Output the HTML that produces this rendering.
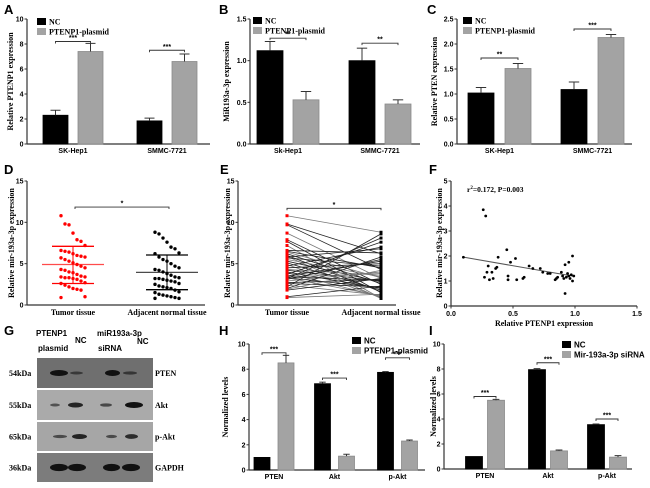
<!DOCTYPE html>
<html><head><meta charset="utf-8"><style>
html,body{margin:0;padding:0;background:#fff;}
svg{display:block;}
text{font-family:"Liberation Sans",sans-serif;}
.serif{font-family:"Liberation Serif",serif;font-weight:bold;}
.tk{font-size:7px;font-weight:bold;}
.lab{font-size:13px;font-weight:bold;}
</style></head><body>
<svg id="fig" width="650" height="488" viewBox="0 0 650 488" xmlns="http://www.w3.org/2000/svg">
<g>
<text class="lab" x="4" y="14">A</text><text class="lab" x="219" y="14">B</text><text class="lab" x="427" y="14">C</text>
<text class="lab" x="4" y="174">D</text><text class="lab" x="220" y="174">E</text><text class="lab" x="429" y="174">F</text>
<text class="lab" x="4" y="335">G</text><text class="lab" x="219" y="335">H</text><text class="lab" x="429" y="335">I</text>
</g>
<g id="blot">
<text x="36" y="336" style="font-size:8px;font-weight:bold">PTENP1</text>
<text x="38" y="351" style="font-size:8px;font-weight:bold">plasmid</text>
<text x="75" y="343" style="font-size:8px;font-weight:bold">NC</text>
<text x="97" y="336" style="font-size:8px;font-weight:bold">miR193a-3p</text>
<text x="98" y="351" style="font-size:8px;font-weight:bold">siRNA</text>
<text x="137" y="344" style="font-size:8px;font-weight:bold">NC</text>
</g>
</svg>
<script>
// ---------- data ----------
const barCategoriesA = ["SK-Hep1","SMMC-7721"];
const ncA = [2.3, 1.85], ncErrA = [0.4, 0.22];
const plA = [7.4, 6.6], plErrA = [0.65, 0.6];
const starsA = ["***","***"], brA = [8.2, 7.5];

const barCategoriesB = ["Sk-Hep1","SMMC-7721"];
const ncB = [1.12, 1.0], ncErrB = [0.11, 0.15];
const plB = [0.53, 0.48], plErrB = [0.1, 0.05];
const starsB = ["**","**"], brB = [1.27, 1.21];

const barCategoriesC = ["SK-Hep1","SMMC-7721"];
const ncC = [1.02, 1.09], ncErrC = [0.11, 0.15];
const plC = [1.51, 2.13], plErrC = [0.1, 0.06];
const starsC = ["**","***"], brC = [1.72, 2.3];

const barCategoriesH = ["PTEN","Akt","p-Akt"];
const ncH = [1.0, 6.85, 7.75], ncErrH = [0, 0.12, 0.06];
const plH = [8.5, 1.1, 2.3], plErrH = [0.6, 0.15, 0.08];
const starsH = ["***","***","***"], brH = [9.3, 7.3, 8.9];

const barCategoriesI = ["PTEN","Akt","p-Akt"];
const ncI = [1.0, 7.95, 3.55], ncErrI = [0, 0.08, 0.05];
const siI = [5.5, 1.45, 0.95], siErrI = [0.07, 0.07, 0.12];
const starsI = ["***","***","***"], brI = [5.8, 8.5, 4.0];

const tumorVals = [10.8,9.8,9.7,8.7,7.9,7.7,7.2,6.6,6.5,6.4,6.2,6.0,5.9,5.8,5.7,5.5,5.3,5.1,4.9,4.7,4.5,4.3,4.2,4.0,3.9,3.7,3.5,3.4,3.4,3.3,3.3,3.2,3.1,2.9,2.7,2.6,2.4,2.2,2.0,1.9,1.8,1.0,0.9];
const adjVals = [8.8,8.6,8.1,7.6,7.0,6.8,6.3,6.2,5.8,5.5,5.3,5.0,4.7,4.5,4.3,4.2,4.0,3.8,3.6,3.4,3.3,3.2,3.2,3.1,3.0,2.9,2.8,2.6,2.5,2.3,2.2,2.1,2.0,1.8,1.6,1.5,1.3,1.2,1.1,1.0,0.9,0.8,0.8];
const tumorStats = [4.9, 7.1, 2.6];   // mean, +SD, -SD
const adjStats = [3.95, 6.05, 1.85];
const scatterTicks = [0,5,10,15];

const fX = [0.1,0.26,0.28,0.27,0.29,0.3,0.31,0.33,0.34,0.36,0.37,0.38,0.45,0.46,0.46,0.48,0.52,0.53,0.58,0.59,0.63,0.66,0.72,0.74,0.78,0.8,0.84,0.85,0.86,0.89,0.9,0.91,0.92,0.92,0.93,0.94,0.95,0.95,0.96,0.97,0.98,0.98,0.99];
const fY = [1.95,3.85,3.6,1.15,1.35,1.6,1.05,1.35,1.1,1.5,1.55,1.95,2.25,1.2,1.05,1.75,1.9,1.05,1.1,1.15,1.6,1.5,1.5,1.35,1.3,1.3,1.05,1.1,1.15,1.35,1.2,1.1,1.65,0.5,1.15,1.3,1.75,1.2,1.1,1.25,2.0,1.0,1.2];
const fitIntercept = 2.04, fitSlope = -0.86;
const fXTicks = [0.0,0.5,1.0,1.5], fYTicks = [0,1,2,3,4,5];

// ---------- helpers ----------
const svg = document.getElementById('fig');
const NS = 'http://www.w3.org/2000/svg';
function mk(tag, attrs, parent){
  const e = document.createElementNS(NS, tag);
  for (const k in attrs) e.setAttribute(k, attrs[k]);
  (parent||svg).appendChild(e); return e;
}
function txt(s, x, y, cls, anchor, parent, extra){
  const t = mk('text', Object.assign({x:x, y:y, 'text-anchor':anchor||'start'}, extra||{}), parent);
  if (cls) t.setAttribute('class', cls);
  t.textContent = s; return t;
}
function yTitle(s, x, y, parent){
  const t = txt(s, x, y, 'serif', 'middle', parent, {transform:'rotate(-90 '+x+' '+y+')', 'font-size':'8'});
  
  
}
function yAxis(g, ax, bottom, top, max, ticks, fmt){
  const sy = v => bottom - v/max*(bottom-top);
  mk('line',{x1:ax,y1:top,x2:ax,y2:bottom,stroke:'#333','stroke-width':1.2}, g);
  ticks.forEach(t=>{
    mk('line',{x1:ax-2.5,y1:sy(t),x2:ax,y2:sy(t),stroke:'#333','stroke-width':1}, g);
    const l = txt(fmt(t), ax-3.5, sy(t)+2.5, 'tk', 'end', g);
    
    
  });
  return sy;
}
function bracket(g, x1, x2, y, s){
  mk('path',{d:`M${x1} ${y+2}V${y}H${x2}V${y+2}`,fill:'none',stroke:'#333','stroke-width':0.9}, g);
  txt(s, (x1+x2)/2, y-1.5, '', 'middle', g, {'font-size':'7','font-weight':'bold'});
}
function barChart(cfg){
  const g = mk('g',{});
  
  
  const sy = yAxis(g, cfg.ax, cfg.bottom, cfg.top, cfg.max, cfg.ticks, cfg.fmt);
  mk('line',{x1:cfg.ax,y1:cfg.bottom,x2:cfg.axEnd,y2:cfg.bottom,stroke:'#333','stroke-width':1.2}, g);
  cfg.cats.forEach((c,i)=>{
    const cx = cfg.centers[i];
    [[cfg.a, cfg.aErr, -1, '#000', '#000'], [cfg.b, cfg.bErr, 1, '#a3a3a3', '#8a8a8a']].forEach(([vals, errs, side, fill, stroke], k)=>{
      const x = cx + side*cfg.off - cfg.w/2;
      const yv = sy(vals[i]);
      const r = mk('rect',{x:x,y:yv,width:cfg.w,height:cfg.bottom-yv,fill:fill,stroke:stroke,'stroke-width':0.8}, g);
      
      
      if (errs[i]>0){
        const ye = sy(vals[i]+errs[i]); const xm = x+cfg.w/2;
        mk('line',{x1:xm,y1:yv,x2:xm,y2:ye,stroke:'#333','stroke-width':1}, g);
        mk('line',{x1:xm-cfg.w*0.2,y1:ye,x2:xm+cfg.w*0.2,y2:ye,stroke:'#333','stroke-width':1}, g);
      }
    });
    bracket(g, cx-cfg.off, cx+cfg.off, sy(cfg.br[i]), cfg.stars[i]);
    const l = txt(c, cx, cfg.bottom+9, 'tk', 'middle', g, {'font-size':'8'});
    
    
  });
  const lg = mk('g',{}, g);
  
  
  cfg.legend.forEach((s,k)=>{
    const y = cfg.legY + k*cfg.legGap;
    mk('rect',{x:cfg.legX,y:y-4,width:9,height:7,fill:k?'#a3a3a3':'#000'}, lg);
    const t = txt(s, cfg.legX+12, y+2.5, cfg.legSans?'':'serif', 'start', lg, {'font-size':'8','font-weight':'bold'});
    
    
  });
  yTitle(cfg.ytitle, cfg.ytX, (cfg.top+cfg.bottom)/2, g);
}
const f0 = v=>String(v), f1 = v=>v.toFixed(1);

barChart({name:'chart-a-ptenp1', ax:27, bottom:144, top:19, max:10, ticks:[0,2,4,6,8,10], fmt:f0, axEnd:210,
  cats:barCategoriesA, centers:[73,167], off:17.5, w:25, a:ncA, aErr:ncErrA, b:plA, bErr:plErrA, stars:starsA, br:brA,
  legend:['NC','PTENP1-plasmid'], legX:37, legY:22, legGap:10, ytitle:'Relative PTENP1  expression', ytX:13});
barChart({name:'chart-b-mir193a', ax:250, bottom:144, top:19, max:1.5, ticks:[0,0.5,1,1.5], fmt:f1, axEnd:420,
  cats:barCategoriesB, centers:[288,380], off:18, w:26, a:ncB, aErr:ncErrB, b:plB, bErr:plErrB, stars:starsB, br:brB,
  legend:['NC','PTENP1-plasmid'], legX:253, legY:21, legGap:10, ytitle:'MiR193a-3p expression', ytX:229});
barChart({name:'chart-c-pten', ax:457, bottom:144, top:19, max:2.5, ticks:[0,0.5,1,1.5,2,2.5], fmt:f1, axEnd:632,
  cats:barCategoriesC, centers:[499.5,592.5], off:18.5, w:26, a:ncC, aErr:ncErrC, b:plC, bErr:plErrC, stars:starsC, br:brC,
  legend:['NC','PTENP1-plasmid'], legX:463, legY:21, legGap:10, ytitle:'Relative PTEN expression', ytX:437});
barChart({name:'chart-h-normalized', ax:249, bottom:470, top:344, max:10, ticks:[0,2,4,6,8,10], fmt:f0, axEnd:425,
  cats:barCategoriesH, centers:[274,334.5,397.5], off:12, w:16, a:ncH, aErr:ncErrH, b:plH, bErr:plErrH, stars:starsH, br:brH,
  legend:['NC','PTENP1-plasmid'], legX:352, legY:341, legGap:10, legSans:true, ytitle:'Normalized levels', ytX:228});
barChart({name:'chart-i-normalized', ax:444, bottom:469, top:344, max:10, ticks:[0,2,4,6,8,10], fmt:f0, axEnd:632,
  cats:barCategoriesI, centers:[485,548,607], off:11, w:17, a:ncI, aErr:ncErrI, b:siI, bErr:siErrI, stars:starsI, br:brI,
  legend:['NC','Mir-193a-3p siRNA'], legX:562, legY:345, legGap:10, legSans:true, ytitle:'Normalized levels', ytX:436});

// ---------- D: scatter dot plot ----------
(function(){
  const g = mk('g',{});  
  const ax=27,bottom=305,top=181;
  const sy = yAxis(g, ax, bottom, top, 15, scatterTicks, f0);
  mk('line',{x1:ax,y1:bottom,x2:205,y2:bottom,stroke:'#333','stroke-width':1.2}, g);
  const groups = [[tumorVals, tumorStats, 73, '#f00', 'Tumor tissue'], [adjVals, adjStats, 167, '#000', 'Adjacent normal tissue']];
  groups.forEach(([vals, st, cx, col, name])=>{
    vals.forEach((v,i)=>{
      const j = ((i%7)-3)*4;
      const c = mk('circle',{cx:cx+j, cy:sy(v), r:1.7, fill:col}, g);
       
    });
    mk('line',{x1:cx-31,x2:cx+31,y1:sy(st[0]),y2:sy(st[0]),stroke:col,'stroke-width':1.3,opacity:0.7}, g);
    mk('line',{x1:cx-21,x2:cx+21,y1:sy(st[1]),y2:sy(st[1]),stroke:col,'stroke-width':1.3}, g);
    mk('line',{x1:cx-21,x2:cx+21,y1:sy(st[2]),y2:sy(st[2]),stroke:col,'stroke-width':1.3}, g);
    mk('line',{x1:cx,x2:cx,y1:sy(st[1]),y2:sy(st[2]),stroke:col,'stroke-width':1}, g);
    const l = txt(name, cx, bottom+10, 'serif', 'middle', g, {'font-size':'8'});
     
  });
  bracket(g, 75, 169, sy(11.85), '*');
  yTitle('Relative mir-193a-3p expression', 14, 243, g);
})();

// ---------- E: paired lines ----------
(function(){
  const g = mk('g',{});  
  const ax=238,bottom=305,top=181, x1=287, x2=381;
  const sy = yAxis(g, ax, bottom, top, 15, scatterTicks, f0);
  mk('line',{x1:ax,y1:bottom,x2:396,y2:bottom,stroke:'#333','stroke-width':1.2}, g);
  const n = tumorVals.length;
  tumorVals.forEach((v,i)=>{
    const w = adjVals[(i*7)%n];
    const l = mk('line',{x1:x1,y1:sy(v),x2:x2,y2:sy(w),stroke:i%3?'#222':'#777','stroke-width':0.8}, g);
     
  });
  tumorVals.forEach(v=>{ const p=mk('rect',{x:x1-1.5,y:sy(v)-1.5,width:3,height:3,fill:'#f00'}, g);   });
  adjVals.forEach(v=>{ const p=mk('rect',{x:x2-1.5,y:sy(v)-1.5,width:3,height:3,fill:'#000'}, g);   });
  bracket(g, x1, x2, sy(11.7), '*');
  txt('Tumor tissue', x1, bottom+10, 'serif', 'middle', g, {'font-size':'8'});
  txt('Adjacent normal tissue', x2, bottom+10, 'serif', 'middle', g, {'font-size':'8'});
  yTitle('Relative mir-193a-3p expression', 230, 243, g);
})();

// ---------- F: correlation ----------
(function(){
  const g = mk('g',{});  
  const ax=451,bottom=306,top=181, xr=637;
  const sy = yAxis(g, ax, bottom, top, 5, fYTicks, f0);
  const sx = v => ax + v/1.5*(xr-ax);
  mk('line',{x1:ax,y1:bottom,x2:xr,y2:bottom,stroke:'#333','stroke-width':1.2}, g);
  fXTicks.forEach(t=>{
    mk('line',{x1:sx(t),y1:bottom,x2:sx(t),y2:bottom+2.5,stroke:'#333'}, g);
    txt(t.toFixed(1), sx(t), bottom+10, 'tk', 'middle', g);
  });
  const xa = Math.min(...fX), xb = Math.max(...fX);
  const fit = mk('line',{x1:sx(xa),y1:sy(fitIntercept+fitSlope*xa),x2:sx(xb),y2:sy(fitIntercept+fitSlope*xb),stroke:'#555','stroke-width':1}, g);
   
  fX.forEach((x,i)=>{
    const c = mk('circle',{cx:sx(x),cy:sy(fY[i]),r:1.4,fill:'#000'}, g);
     
  });
  const st = txt('', 467, 192, 'serif', 'start', g, {'font-size':'7.5'});
  st.innerHTML = 'r<tspan dy="-3" font-size="5">2</tspan><tspan dy="3">=0.172, P=0.003</tspan>';
  
  txt('Relative PTENP1 expression', 544, 326, 'serif', 'middle', g, {'font-size':'8'});
  yTitle('Relative mir-193a-3p expression', 442, 243, g);
})();

// ---------- G: blot ----------
(function(){
  const g = document.getElementById('blot');
  const rows = [
    {y:358, h:30, bg:'#6f6f6f', kda:'54kDa', name:'PTEN', bands:[[50,68,1],[70,83,0.3],[105,120,1],[123,137,0.35]]},
    {y:390, h:30, bg:'#aaaaaa', kda:'55kDa', name:'Akt', bands:[[50,60,0.3],[68,83,0.8],[100,112,0.4],[125,143,1]]},
    {y:422, h:29, bg:'#a6a6a6', kda:'65kDa', name:'p-Akt', bands:[[53,67,0.35],[72,87,0.8],[106,117,0.35],[125,138,0.7]]},
    {y:453, h:29, bg:'#7c7c7c', kda:'36kDa', name:'GAPDH', bands:[[50,68,1.3],[68,86,1.3],[103,120,1.3],[122,140,1.3]]}
  ];
  rows.forEach(r=>{
    const b = mk('rect',{x:37,y:r.y,width:116,height:r.h,fill:r.bg}, g);
     
    const cy = r.y + r.h/2;
    r.bands.forEach(([a,z,s])=>{
      mk('ellipse',{cx:(a+z)/2,cy:cy,rx:(z-a)/2,ry:0.8+2.2*s,fill:'#111',opacity:Math.min(1,0.4+0.6*s)}, g);
    });
    txt(r.kda, 9, cy+3, 'serif', 'start', g, {'font-size':'8'});
    txt(r.name, 155, cy+3, 'serif', 'start', g, {'font-size':'8'});
  });
})();
</script>
</body></html>
